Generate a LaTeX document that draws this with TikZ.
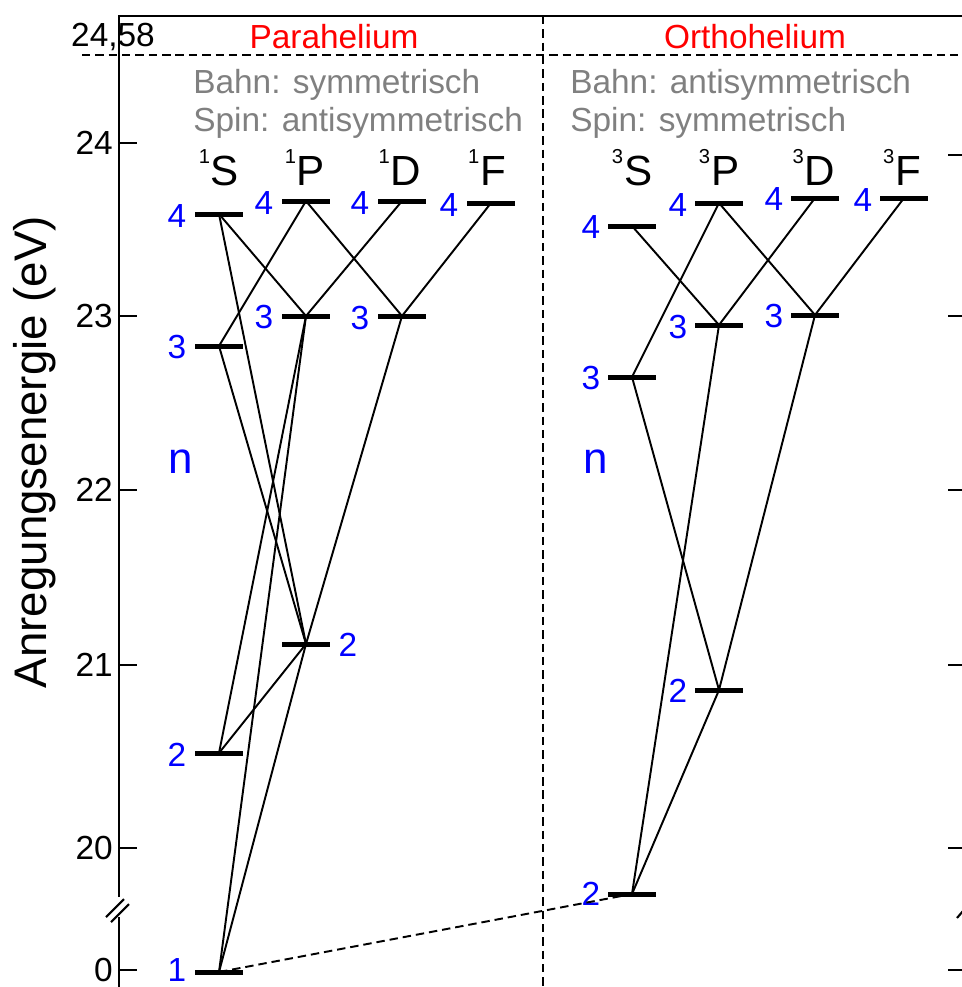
\documentclass[tikz,border=0pt]{standalone}
\usepackage{fontspec}
\setmainfont{Liberation Sans}
\usepackage{xcolor}
\usepackage{tikz}
\usetikzlibrary{positioning}
\definecolor{infogray}{RGB}{128,128,128}
\newcommand{\term}[2]{\raisebox{12pt}{\fontsize{11.5}{11.5}\selectfont #1}\kern0.5pt#2}

\begin{document}
\begin{tikzpicture}[
    x=0.02cm, y=-0.02cm,
    % Styles
    level/.style={fill=black, minimum width=0.96cm, minimum height=0.1cm, inner sep=0pt},
    num/.style={text=blue, font=\fontsize{19}{19}\selectfont, inner sep=0pt},
    term/.style={font=\fontsize{24}{24}\selectfont, inner sep=0pt, anchor=base},
    trans/.style={line width=1.1pt},
    dashline/.style={line width=1.1pt, dash pattern=on 4.8pt off 2.8pt},
    axisline/.style={line width=1.6pt},
    tickmark/.style={line width=1.2pt},
    ticklbl/.style={font=\fontsize{19}{19}\selectfont, inner sep=0pt},
    header/.style={text=red, font=\fontsize{19}{19}\selectfont, inner sep=0pt},
    info/.style={text=infogray, font=\fontsize{19}{19}\selectfont, anchor=base west, inner sep=0pt},
]
\useasboundingbox (0,0) rectangle (962,987);

% ── Axes and frame ──
\draw[axisline] (119,897) -- (119,16) -- (962,16);
\draw[axisline] (119,917) -- (119,987);
\draw[tickmark] (106,917) -- (124,899);
\draw[tickmark] (111,922) -- (129,904);
\draw[tickmark] (957,918) -- (963,911);
\foreach \v/\yy in {24/143, 23/316, 22/490, 21/665, 20/848, 0/970} {
    \draw[tickmark] (119,\yy) -- (137,\yy);
    \node[ticklbl, anchor=east] (tl\v) at (113,\yy) {\v};
}
\foreach \yy in {155, 316, 490, 665, 848, 970}
    \draw[tickmark] (948,\yy) -- (962,\yy);
\node[ticklbl] (ion) at (113,37) {24,58};
\draw[dashline] (82,55) -- (962,55);
\draw[dashline] (543,16) -- (543,987);
\node[font=\fontsize{26}{26}\selectfont, rotate=90] (ylabel) at (35,452) {Anregungsenergie (eV)};

% ── Parahelium ──
\node[header] (para) at (334,37) {Parahelium};
\node[info] (bahnP) at (193,93) {Bahn: symmetrisch};
\node[info] (spinP) at (193,131) {Spin: antisymmetrisch};
\node[term] (lS) at (219,185) {\term{1}{S}};
\node[term] (lP) at (305,185) {\term{1}{P}};
\node[term] (lD) at (400,185) {\term{1}{D}};
\node[term] (lF) at (487,185) {\term{1}{F}};

\node[level] (s1) at (219,972) {};
\node[level] (s2) at (219,753) {};
\node[level] (s3) at (219,346) {};
\node[level] (s4) at (219,214) {};
\node[level] (p2) at (306,644) {};
\node[level] (p3) at (306,316) {};
\node[level] (p4) at (306,201) {};
\node[level] (d3) at (402,316) {};
\node[level] (d4) at (402,201) {};
\node[level] (f4) at (491,203) {};

\node[num, left=0.16cm of s1, yshift=0.04cm] (s1n) {1};
\node[num, left=0.16cm of s2, yshift=-0.03cm] (s2n) {2};
\node[num, left=0.16cm of s3, yshift=-0.03cm] (s3n) {3};
\node[num, left=0.16cm of s4, yshift=-0.05cm] (s4n) {4};
\node[num, right=0.16cm of p2, yshift=-0.02cm] (p2n) {2};
\node[num, left=0.16cm of p3, yshift=-0.03cm] (p3n) {3};
\node[num, left=0.16cm of p4, yshift=-0.05cm] (p4n) {4};
\node[num, left=0.16cm of d3, yshift=-0.05cm] (d3n) {3};
\node[num, left=0.16cm of d4, yshift=-0.05cm] (d4n) {4};
\node[num, left=0.16cm of f4, yshift=-0.04cm] (f4n) {4};
\node[num, font=\fontsize{25}{25}\selectfont] (nP) at (181,462) {n};

\draw[trans] (s4.center) -- (p3.center);
\draw[trans] (s4.center) -- (p2.center);
\draw[trans] (p4.center) -- (s3.center);
\draw[trans] (p4.center) -- (d3.center);
\draw[trans] (d4.center) -- (p3.center);
\draw[trans] (f4.center) -- (d3.center);
\draw[trans] (s3.center) -- (p2.center);
\draw[trans] (p3.center) -- (s2.center);
\draw[trans] (p3.center) -- (s1.center);
\draw[trans] (d3.center) -- (p2.center);
\draw[trans] (p2.center) -- (s2.center);
\draw[trans] (p2.center) -- (s1.center);

% ── Orthohelium ──
\node[header] (ortho) at (755,37) {Orthohelium};
\node[info] (bahnO) at (570,93) {Bahn: antisymmetrisch};
\node[info] (spinO) at (570,131) {Spin: symmetrisch};
\node[term] (tlS) at (632,185) {\term{3}{S}};
\node[term] (tlP) at (719,185) {\term{3}{P}};
\node[term] (tlD) at (814,185) {\term{3}{D}};
\node[term] (tlF) at (902,185) {\term{3}{F}};

\node[level] (ts2) at (632,894) {};
\node[level] (ts3) at (632,377) {};
\node[level] (ts4) at (632,226) {};
\node[level] (tp2) at (719,690) {};
\node[level] (tp3) at (719,325) {};
\node[level] (tp4) at (719,203) {};
\node[level] (td3) at (815,315) {};
\node[level] (td4) at (815,198) {};
\node[level] (tf4) at (904,198) {};

\node[num, left=0.14cm of ts2] (ts2n) {2};
\node[num, left=0.14cm of ts3, yshift=-0.03cm] (ts3n) {3};
\node[num, left=0.14cm of ts4, yshift=-0.03cm] (ts4n) {4};
\node[num, left=0.14cm of tp2, yshift=-0.02cm] (tp2n) {2};
\node[num, left=0.14cm of tp3, yshift=-0.05cm] (tp3n) {3};
\node[num, left=0.14cm of tp4, yshift=-0.05cm] (tp4n) {4};
\node[num, left=0.14cm of td3, yshift=-0.02cm] (td3n) {3};
\node[num, left=0.14cm of td4, yshift=-0.02cm] (td4n) {4};
\node[num, left=0.14cm of tf4, yshift=-0.05cm] (tf4n) {4};
\node[num, font=\fontsize{25}{25}\selectfont] (nO) at (596,462) {n};

\draw[trans] (ts4.center) -- (tp3.center);
\draw[trans] (tp4.center) -- (ts3.center);
\draw[trans] (tp4.center) -- (td3.center);
\draw[trans] (td4.center) -- (tp3.center);
\draw[trans] (tf4.center) -- (td3.center);
\draw[trans] (tp3.center) -- (ts2.center);
\draw[trans] (td3.center) -- (tp2.center);
\draw[trans] (ts3.center) -- (tp2.center);
\draw[trans] (tp2.center) -- (ts2.center);

% ── Intercombination ──
\draw[dashline] (s1.center) -- (ts2.center);

\end{tikzpicture}
\end{document}
